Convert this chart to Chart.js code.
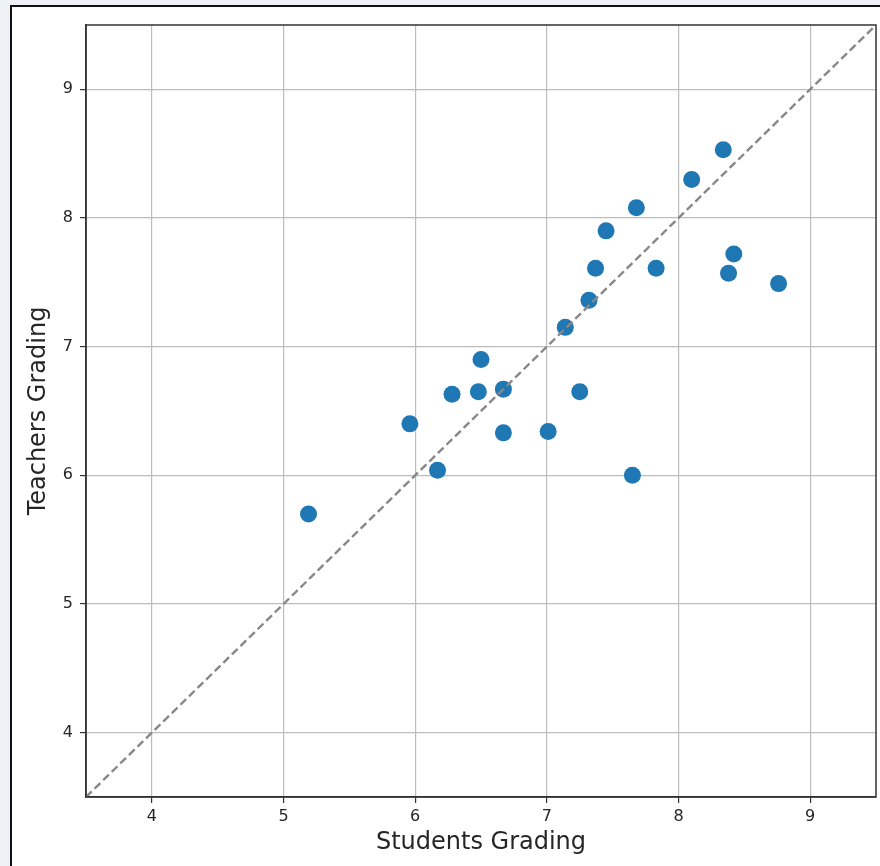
<!DOCTYPE html>
<html>
<head>
<meta charset="utf-8">
<script src="https://cdn.jsdelivr.net/npm/chart.js@4"></script>
<style>
  html, body { margin: 0; padding: 0; }
  body { width: 880px; height: 866px; overflow: hidden; background: #eef1f5; position: relative; }
  .frame { position: absolute; left: 10px; top: 5px; width: 880px; height: 870px;
           border-left: 2px solid #111; border-top: 2px solid #111; background: #fff; }
  #chart { position: absolute; left: 0; top: 0; }
</style>
</head>
<body>
<div class="frame"></div>
<canvas id="chart" width="880" height="866"></canvas>
<script>
// students grading (x) vs teachers grading (y)
const studentsGrading = [5.19, 5.96, 6.17, 6.28, 6.48, 6.50, 6.67, 6.67, 7.01, 7.25, 7.65,
                         7.14, 7.32, 7.37, 7.45, 7.68, 7.83, 8.10, 8.34, 8.42, 8.38, 8.76];
const teachersGrading = [5.70, 6.40, 6.04, 6.63, 6.65, 6.90, 6.67, 6.33, 6.34, 6.65, 6.00,
                         7.15, 7.36, 7.61, 7.90, 8.08, 7.61, 8.30, 8.53, 7.72, 7.57, 7.49];
const axisRange = [3.5, 9.5];
const tickValues = [4, 5, 6, 7, 8, 9];
const xTitle = "Students Grading";
const yTitle = "Teachers Grading";

const points = studentsGrading.map((x, i) => ({ x: x, y: teachersGrading[i] }));
const diagonal = [{ x: axisRange[0], y: axisRange[0] }, { x: axisRange[1], y: axisRange[1] }];

const fontFamily = "'DejaVu Sans', sans-serif";
const textColor = "#262626";

// matplotlib-like box around the plot area
const boxPlugin = {
    id: "box",
    afterDatasetsDraw(chart) {
        const { ctx, chartArea: a } = chart;
        ctx.save();
        ctx.strokeStyle = "#333";
        ctx.lineWidth = 1.5;
        ctx.strokeRect(a.left, a.top, a.right - a.left, a.bottom - a.top);
        ctx.restore();
    }
};

const fixedTicks = (scale) => {
    scale.ticks = tickValues.map((v) => ({ value: v }));
};

new Chart(document.getElementById("chart"), {
    type: "scatter",
    data: {
        datasets: [
            {
                type: "line",
                data: diagonal,
                borderColor: "#888888",
                borderWidth: 2.4,
                borderDash: [8, 4],
                pointRadius: 0,
                fill: false,
                order: 0,
            },
            {
                data: points,
                backgroundColor: "#1f77b4",
                borderColor: "#1f77b4",
                borderWidth: 0,
                pointRadius: 8.5,
                pointHoverRadius: 8.5,
                order: 1,
            },
        ],
    },
    options: {
        responsive: false,
        animation: false,
        devicePixelRatio: 1,
        layout: { autoPadding: false, padding: { top: 25, right: 4, left: 0, bottom: 0 } },
        plugins: { legend: { display: false }, tooltip: { enabled: false } },
        scales: {
            x: {
                type: "linear",
                min: axisRange[0],
                max: axisRange[1],
                afterBuildTicks: fixedTicks,
                afterFit: (s) => { s.height = 69; },
                grid: { color: "#bdbdbd", lineWidth: 1.2, tickColor: "#333", tickLength: 6 },
                border: { display: true, color: "#333", width: 1.5 },
                ticks: { color: textColor, font: { family: fontFamily, size: 16 }, padding: 4, maxRotation: 0 },
                title: {
                    display: true,
                    text: xTitle,
                    color: textColor,
                    font: { family: fontFamily, size: 24 },
                    padding: { top: 0, bottom: 9 },
                },
            },
            y: {
                type: "linear",
                min: axisRange[0],
                max: axisRange[1],
                afterBuildTicks: fixedTicks,
                afterFit: (s) => { s.width = 86; },
                grid: { color: "#bdbdbd", lineWidth: 1.2, tickColor: "#333", tickLength: 6 },
                border: { display: true, color: "#333", width: 1.5 },
                ticks: { color: textColor, font: { family: fontFamily, size: 16 }, padding: 7 },
                title: {
                    display: true,
                    text: yTitle,
                    color: textColor,
                    font: { family: fontFamily, size: 24 },
                    padding: { top: 24, bottom: 0 },
                },
            },
        },
    },
    plugins: [boxPlugin],
});
</script>
</body>
</html>
